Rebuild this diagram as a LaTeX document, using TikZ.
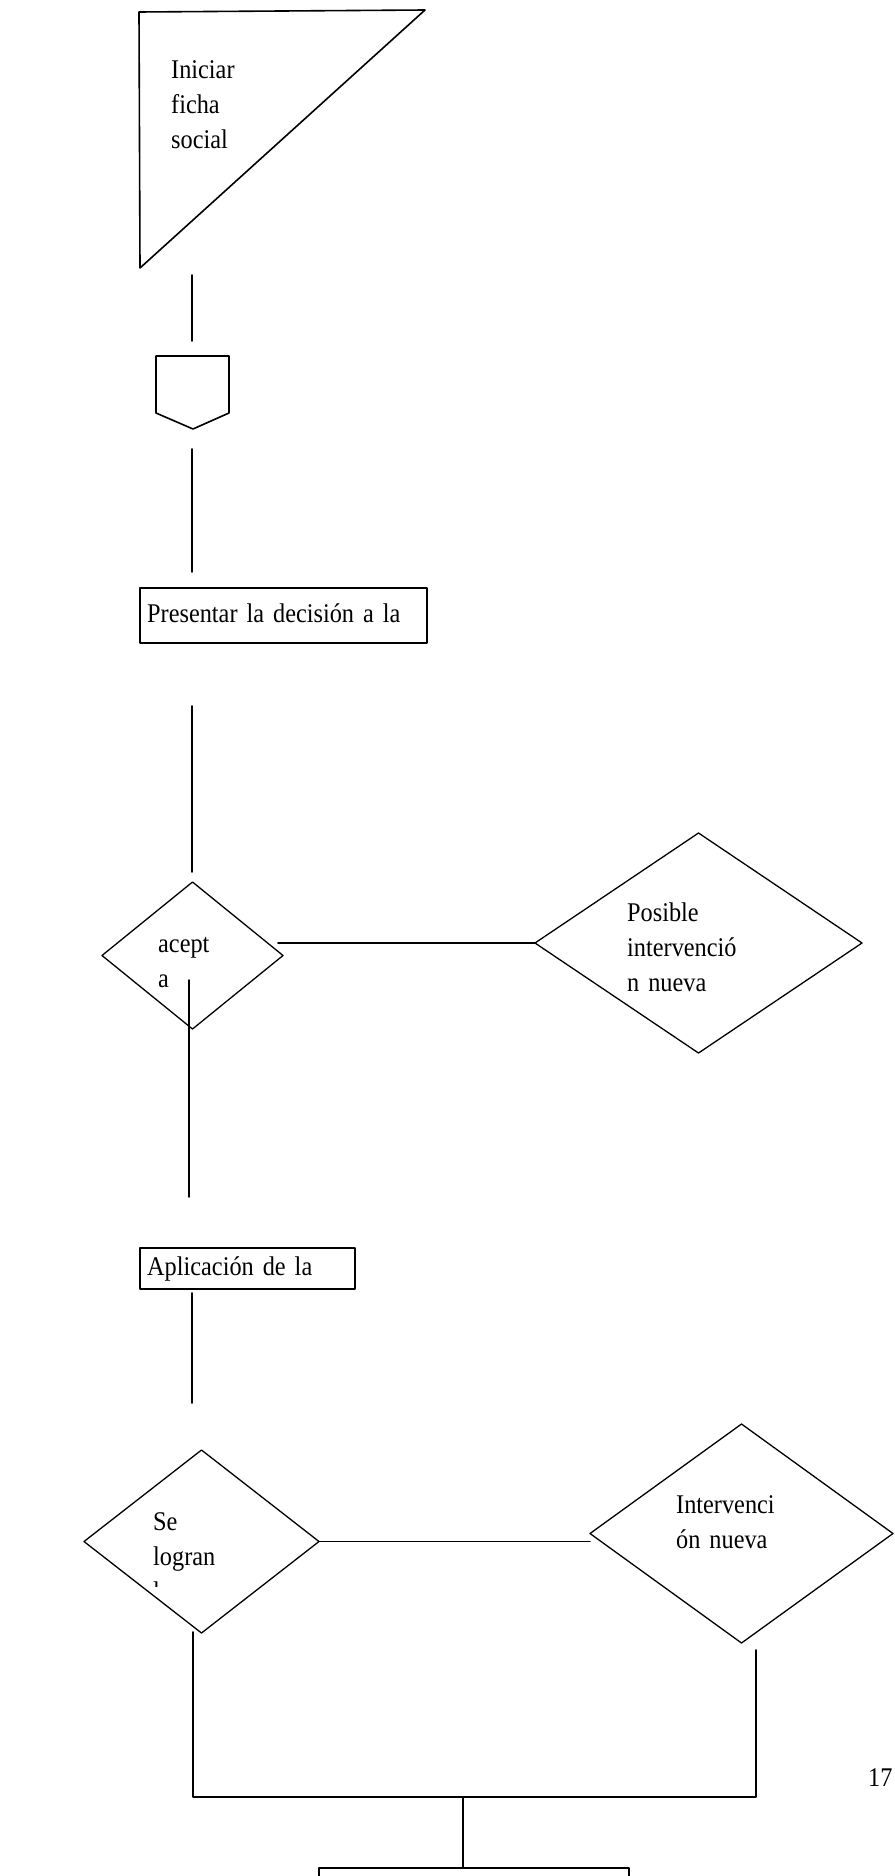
\documentclass[tikz,border=0pt]{standalone}
\usepackage{fontspec}
\setmainfont{Liberation Serif}[FakeStretch=0.9]
\usetikzlibrary{shapes.geometric}
\tikzstyle{every node}=[font=\fontsize{27}{35}\selectfont]
\tikzstyle{caja}=[draw,line width=1.6pt,inner sep=0pt,outer sep=0pt]
\tikzstyle{rombo}=[draw,diamond,line width=1.3pt,inner sep=0pt,outer sep=0pt]
\tikzstyle{texto}=[inner sep=0pt,anchor=base west,align=left,text width=300pt]

\begin{document}
\begin{tikzpicture}[line cap=round,line join=round,x=1pt,y=-1pt]
    \useasboundingbox (0,0) rectangle (894,1876);
    \clip (0,0) rectangle (894,1876);
    % inicio
    \draw [line width=1.6pt] (139,12) -- (425,10) -- (140,268) -- cycle;
    \node[texto] (iniciar) at (171,78) {Iniciar\\ficha\\social};
    \coordinate (t1) at (192,275);
    \coordinate (t2) at (192,341);
    \draw [line width=1.6pt] (t1) -- (t2);
    % conector
    \draw [line width=1.6pt] (156,356) -- (229,356) -- (229,413) -- (193,429) -- (156,413) -- cycle;
    \coordinate (c1) at (192,449);
    \coordinate (c2) at (192,572);
    \draw [line width=1.6pt] (c1) -- (c2);
    % presentar
    \node[caja,minimum width=287pt,minimum height=55pt] (presentar) at (283.5,615.5) {};
    \node[texto] (presentartxt) at (147,622) {Presentar la decisión a la};
    \coordinate (p1) at (192,706);
    \coordinate (p2) at (192,872);
    \draw [line width=1.6pt] (p1) -- (p2);
    % acepta
    \node[rombo,minimum width=181pt,minimum height=147pt] (acepta) at (192.5,955.5) {};
    \node[texto] (aceptatxt) at (158,952) {acept\\a};
    \node[rombo,minimum width=327pt,minimum height=220pt] (posible) at (698.5,943) {};
    \node[texto] (posibletxt) at (627,921) {Posible\\intervenció\\n nueva};
    \draw [line width=1.6pt] (posible.west) -- ([xshift=-5pt]acepta.east |- posible.west);
    \coordinate (a1) at (189,980);
    \coordinate (a2) at (189,1197);
    \draw [line width=1.6pt] (a1) -- (a2);
    % aplicacion
    \node[caja,minimum width=215pt,minimum height=41pt] (aplicacion) at (247.5,1268.5) {};
    \node[texto] (aplicaciontxt) at (147,1275) {Aplicación de la};
    \coordinate (b1) at (192,1293);
    \coordinate (b2) at (192,1403);
    \draw [line width=1.6pt] (b1) -- (b2);
    % se logran
    \node[rombo,minimum width=235pt,minimum height=183pt] (selogran) at (201.5,1541.5) {};
    \node[texto] (selograntxt) at (153,1530) {Se\\logran};
    \begin{scope}
        \clip (145,1570) rectangle (220,1586);
        \node[texto] (selogranoculto) at (153,1600) {los};
    \end{scope}
    \node[rombo,minimum width=303pt,minimum height=219pt] (intervencion) at (741.5,1533.5) {};
    \node[texto] (intervenciontxt) at (676,1513) {Intervenci\\ón nueva};
    \draw [line width=1.6pt] (selogran.east) -- (selogran.east -| intervencion.west);
    % union
    \coordinate (s1) at (193,1632);
    \coordinate (izq) at (193,1797);
    \coordinate (union) at (463,1797);
    \coordinate (der) at (756,1797);
    \coordinate (i1) at (756,1650);
    \draw [line width=1.6pt] (s1) -- (izq) -- (der) -- (i1);
    \node[caja,minimum width=310pt,minimum height=60pt,anchor=north] (final) at (474,1868) {};
    \draw [line width=1.6pt] (union) -- (union |- final.north);
    \node[texto] (pagina) at (868,1786) {17};
\end{tikzpicture}
\end{document}
